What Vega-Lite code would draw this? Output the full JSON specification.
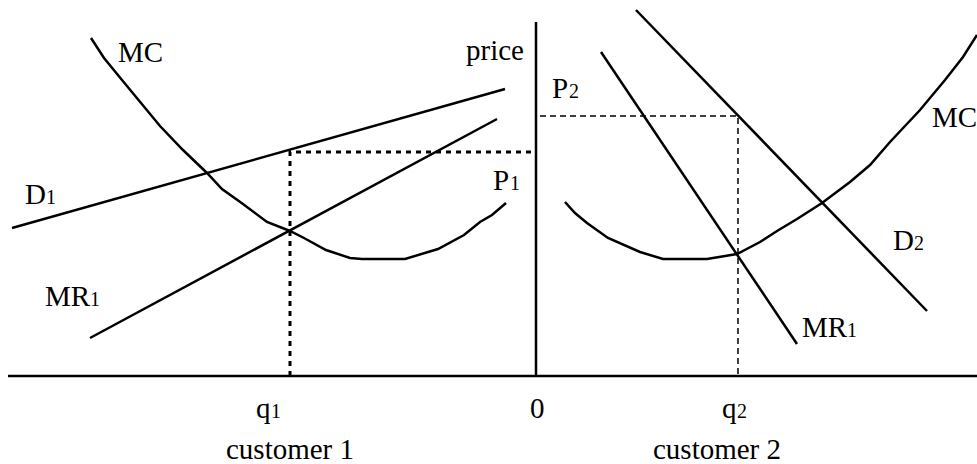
{
  "$schema": "https://vega.github.io/schema/vega-lite/v6.json",
  "width": 977,
  "height": 464,
  "padding": 0,
  "autosize": "none",
  "background": "white",
  "config": {"view": {"stroke": null}},
  "datasets": {
    "solid": [
      {"series": "haxis", "i": 0, "x": 8, "y": 0},
      {"series": "haxis", "i": 1, "x": 977, "y": 0},
      {"series": "vaxis", "i": 0, "x": 536, "y": 0},
      {"series": "vaxis", "i": 1, "x": 536, "y": 354},
      {"series": "D1", "i": 0, "x": 12, "y": 148},
      {"series": "D1", "i": 1, "x": 505, "y": 287},
      {"series": "MR1L", "i": 0, "x": 90, "y": 38},
      {"series": "MR1L", "i": 1, "x": 497, "y": 257},
      {"series": "MC1", "i": 0, "x": 91, "y": 338},
      {"series": "MC1", "i": 1, "x": 104, "y": 318},
      {"series": "MC1", "i": 2, "x": 122, "y": 296},
      {"series": "MC1", "i": 3, "x": 141, "y": 273},
      {"series": "MC1", "i": 4, "x": 160, "y": 250},
      {"series": "MC1", "i": 5, "x": 183, "y": 226},
      {"series": "MC1", "i": 6, "x": 207, "y": 203},
      {"series": "MC1", "i": 7, "x": 222, "y": 187},
      {"series": "MC1", "i": 8, "x": 243, "y": 172},
      {"series": "MC1", "i": 9, "x": 267, "y": 154},
      {"series": "MC1", "i": 10, "x": 290, "y": 145},
      {"series": "MC1", "i": 11, "x": 304, "y": 138},
      {"series": "MC1", "i": 12, "x": 326, "y": 126},
      {"series": "MC1", "i": 13, "x": 350, "y": 118},
      {"series": "MC1", "i": 14, "x": 362, "y": 117},
      {"series": "MC1", "i": 15, "x": 405, "y": 117},
      {"series": "MC1", "i": 16, "x": 438, "y": 127},
      {"series": "MC1", "i": 17, "x": 464, "y": 141},
      {"series": "MC1", "i": 18, "x": 480, "y": 154},
      {"series": "MC1", "i": 19, "x": 492, "y": 161},
      {"series": "MC1", "i": 20, "x": 506, "y": 173},
      {"series": "D2", "i": 0, "x": 636, "y": 366},
      {"series": "D2", "i": 1, "x": 927, "y": 65},
      {"series": "MR2", "i": 0, "x": 601, "y": 324},
      {"series": "MR2", "i": 1, "x": 797, "y": 32},
      {"series": "MC2", "i": 0, "x": 565, "y": 174},
      {"series": "MC2", "i": 1, "x": 575, "y": 163},
      {"series": "MC2", "i": 2, "x": 587, "y": 153},
      {"series": "MC2", "i": 3, "x": 608, "y": 138},
      {"series": "MC2", "i": 4, "x": 640, "y": 124},
      {"series": "MC2", "i": 5, "x": 663, "y": 117},
      {"series": "MC2", "i": 6, "x": 707, "y": 117},
      {"series": "MC2", "i": 7, "x": 737, "y": 122},
      {"series": "MC2", "i": 8, "x": 760, "y": 134},
      {"series": "MC2", "i": 9, "x": 777, "y": 145},
      {"series": "MC2", "i": 10, "x": 797, "y": 157},
      {"series": "MC2", "i": 11, "x": 822, "y": 173},
      {"series": "MC2", "i": 12, "x": 850, "y": 194},
      {"series": "MC2", "i": 13, "x": 870, "y": 211},
      {"series": "MC2", "i": 14, "x": 890, "y": 234},
      {"series": "MC2", "i": 15, "x": 920, "y": 266},
      {"series": "MC2", "i": 16, "x": 945, "y": 296},
      {"series": "MC2", "i": 17, "x": 963, "y": 319},
      {"series": "MC2", "i": 18, "x": 977, "y": 341}
    ],
    "dotted": [
      {"series": "q1", "i": 0, "x": 290, "y": 0},
      {"series": "q1", "i": 1, "x": 290, "y": 224},
      {"series": "q1", "i": 2, "x": 536, "y": 224}
    ],
    "dashed": [
      {"series": "q2", "i": 0, "x": 540, "y": 260},
      {"series": "q2", "i": 1, "x": 738, "y": 260},
      {"series": "q2", "i": 2, "x": 738, "y": 0}
    ],
    "labels": [
      {"t": "MC", "x": 118, "y": 314},
      {"t": "price", "x": 466, "y": 316},
      {"t": "P", "x": 552, "y": 278},
      {"t": "P", "x": 493, "y": 186},
      {"t": "D", "x": 25, "y": 172},
      {"t": "MR", "x": 45, "y": 70},
      {"t": "MC", "x": 932, "y": 249},
      {"t": "D", "x": 893, "y": 126},
      {"t": "MR", "x": 802, "y": 39},
      {"t": "q", "x": 256, "y": -42},
      {"t": "0", "x": 530, "y": -42},
      {"t": "q", "x": 722, "y": -42}
    ],
    "digits": [
      {"t": "2", "x": 569, "y": 278},
      {"t": "1", "x": 510, "y": 186},
      {"t": "1", "x": 46, "y": 172},
      {"t": "1", "x": 90, "y": 70},
      {"t": "2", "x": 914, "y": 126},
      {"t": "1", "x": 847, "y": 39},
      {"t": "1", "x": 271, "y": -42},
      {"t": "2", "x": 737, "y": -42}
    ],
    "captions": [
      {"t": "customer 1", "x": 290, "y": -83},
      {"t": "customer 2", "x": 717, "y": -83}
    ]
  },
  "layer": [
    {
      "data": {"name": "solid"},
      "mark": {"type": "line", "color": "black", "strokeWidth": 2.5, "strokeCap": "butt"},
      "encoding": {
        "x": {"field": "x", "type": "quantitative", "scale": {"domain": [0, 977]}, "axis": null},
        "y": {"field": "y", "type": "quantitative", "scale": {"domain": [-88, 376]}, "axis": null},
        "detail": {"field": "series"},
        "order": {"field": "i"}
      }
    },
    {
      "data": {"name": "dotted"},
      "mark": {"type": "line", "color": "black", "strokeWidth": 3, "strokeDash": [5, 5]},
      "encoding": {
        "x": {"field": "x", "type": "quantitative", "scale": {"domain": [0, 977]}, "axis": null},
        "y": {"field": "y", "type": "quantitative", "scale": {"domain": [-88, 376]}, "axis": null},
        "detail": {"field": "series"},
        "order": {"field": "i"}
      }
    },
    {
      "data": {"name": "dashed"},
      "mark": {"type": "line", "color": "black", "strokeWidth": 1.5, "strokeDash": [6, 4]},
      "encoding": {
        "x": {"field": "x", "type": "quantitative", "scale": {"domain": [0, 977]}, "axis": null},
        "y": {"field": "y", "type": "quantitative", "scale": {"domain": [-88, 376]}, "axis": null},
        "detail": {"field": "series"},
        "order": {"field": "i"}
      }
    },
    {
      "data": {"name": "labels"},
      "mark": {"type": "text", "font": "Liberation Serif", "fontSize": 29, "align": "left", "baseline": "alphabetic", "color": "black"},
      "encoding": {
        "x": {"field": "x", "type": "quantitative", "scale": {"domain": [0, 977]}, "axis": null},
        "y": {"field": "y", "type": "quantitative", "scale": {"domain": [-88, 376]}, "axis": null},
        "text": {"field": "t"}
      }
    },
    {
      "data": {"name": "digits"},
      "mark": {"type": "text", "font": "Liberation Serif", "fontSize": 20, "align": "left", "baseline": "alphabetic", "color": "black"},
      "encoding": {
        "x": {"field": "x", "type": "quantitative", "scale": {"domain": [0, 977]}, "axis": null},
        "y": {"field": "y", "type": "quantitative", "scale": {"domain": [-88, 376]}, "axis": null},
        "text": {"field": "t"}
      }
    },
    {
      "data": {"name": "captions"},
      "mark": {"type": "text", "font": "Liberation Serif", "fontSize": 29, "align": "center", "baseline": "alphabetic", "color": "black"},
      "encoding": {
        "x": {"field": "x", "type": "quantitative", "scale": {"domain": [0, 977]}, "axis": null},
        "y": {"field": "y", "type": "quantitative", "scale": {"domain": [-88, 376]}, "axis": null},
        "text": {"field": "t"}
      }
    }
  ]
}
